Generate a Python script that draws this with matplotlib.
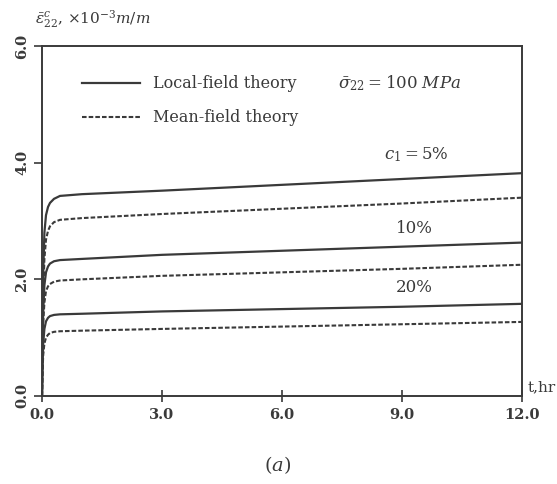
"""Creep strain vs time: local-field vs mean-field theory, three fibre contents."""

import numpy as np
import matplotlib
matplotlib.use("Agg")
import matplotlib.pyplot as plt

plt.rcParams["font.family"] = ["DejaVu Serif"]
plt.rcParams["mathtext.fontset"] = "dejavuserif"

# time, hr (shared by all curves)
t_hr = [0, 0.01, 0.03, 0.06, 0.1, 0.15, 0.2, 0.3, 0.45, 1, 3, 6, 9, 12]

# creep strain, x1e-3 m/m
local_5 = [0, 1.0, 2.1, 2.8, 3.1, 3.24, 3.31, 3.38, 3.43, 3.46, 3.52, 3.62, 3.72, 3.82]
mean_5 = [0, 0.8, 1.7, 2.35, 2.68, 2.83, 2.91, 2.98, 3.02, 3.05, 3.12, 3.21, 3.30, 3.40]
local_10 = [0, 0.7, 1.45, 1.9, 2.12, 2.22, 2.27, 2.31, 2.33, 2.35, 2.42, 2.49, 2.56, 2.63]
mean_10 = [0, 0.6, 1.25, 1.6, 1.8, 1.88, 1.92, 1.96, 1.98, 2.0, 2.06, 2.12, 2.18, 2.25]
local_20 = [0, 0.45, 0.9, 1.15, 1.28, 1.34, 1.37, 1.39, 1.40, 1.41, 1.45, 1.49, 1.53, 1.58]
mean_20 = [0, 0.35, 0.7, 0.9, 1.0, 1.05, 1.08, 1.10, 1.11, 1.12, 1.15, 1.19, 1.23, 1.27]

labels = [r"$c_1 = 5\%$", "10%", "20%"]
label_pos = [(9.35, 4.13), (9.3, 2.88), (9.3, 1.86)]

xticks = [0, 3, 6, 9, 12]
yticks = [0, 2, 4, 6]

INK = "#3a3a3a"


def main():
    fig = plt.figure(figsize=(5.57, 4.84), dpi=100)
    ax = fig.add_axes([42 / 557, 1 - 396 / 484, 480 / 557, 350 / 484])

    for loc, mean in [(local_5, mean_5), (local_10, mean_10), (local_20, mean_20)]:
        ax.plot(t_hr, loc, color=INK, lw=1.6, solid_capstyle="butt")
        ax.plot(t_hr, mean, color=INK, lw=1.5, linestyle=(0, (2.2, 1.0)))

    for txt, (x, y) in zip(labels, label_pos):
        ax.text(x, y, txt, ha="center", va="center", fontsize=12, color=INK)

    # legend drawn by hand, as in the original figure
    ax.plot([0.083, 0.204], [0.894, 0.894], transform=ax.transAxes, color=INK, lw=1.6)
    ax.plot([0.083, 0.204], [0.797, 0.797], transform=ax.transAxes, color=INK,
            lw=1.5, linestyle=(0, (2.2, 1.0)))
    ax.text(0.231, 0.894, "Local-field theory", transform=ax.transAxes,
            va="center", fontsize=11.5, color=INK)
    ax.text(0.231, 0.797, "Mean-field theory", transform=ax.transAxes,
            va="center", fontsize=11.5, color=INK)
    ax.text(0.617, 0.894, r"$\bar{\sigma}_{22} = 100\ MPa$", transform=ax.transAxes,
            va="center", fontsize=12, color=INK)

    ax.set_xlim(0, 12)
    ax.set_ylim(0, 6)
    ax.set_xticks(xticks)
    ax.set_xticklabels([f"{v:.1f}" for v in xticks], fontweight="bold")
    ax.set_yticks(yticks)
    ax.set_yticklabels([f"{v:.1f}" for v in yticks], rotation=90, va="center",
                       fontweight="bold")
    ax.tick_params(axis="x", direction="inout", length=9, width=1.2, color=INK,
                   labelsize=10.5, labelcolor=INK, pad=4)
    ax.tick_params(axis="y", direction="out", length=6, width=1.2, color=INK,
                   labelsize=10.5, labelcolor=INK, pad=3)
    for sp in ax.spines.values():
        sp.set_color(INK)
        sp.set_linewidth(1.4)

    ax.text(1.012, 0.005, "t,hr", transform=ax.transAxes, ha="left", va="bottom",
            fontsize=11, color=INK)
    fig.text(35 / 557, 1 - 19 / 484,
             r"$\bar{\varepsilon}^{c}_{22}$, $\times 10^{-3} m/m$",
             ha="left", va="center", fontsize=11, color=INK)
    fig.text(278 / 557, 1 - 465 / 484, r"$(a)$", ha="center", va="center",
             fontsize=14, color=INK)

    fig.savefig("out.png", dpi=100)
    plt.close(fig)


if __name__ == "__main__":
    main()
